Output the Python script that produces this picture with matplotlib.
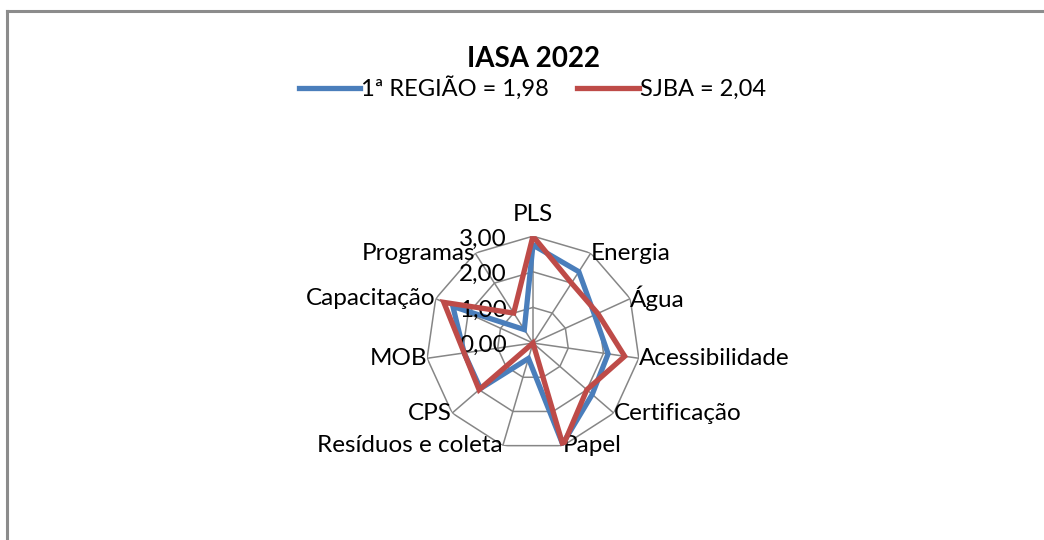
import matplotlib.pyplot as plt
import numpy as np
from matplotlib.lines import Line2D

categories = ['PLS', 'Energia', 'Água', 'Acessibilidade', 'Certificação', 'Papel',
              'Resíduos e coleta', 'CPS', 'MOB', 'Capacitação', 'Programas']
regiao = [2.75, 2.38, 1.90, 2.13, 2.20, 2.95, 0.45, 1.95, 1.95, 2.47, 0.45]
sjba = [3.00, 2.00, 2.00, 2.60, 2.00, 3.00, 0.00, 2.00, 1.95, 2.75, 1.00]
series_names = ['1ª REGIÃO = 1,98', 'SJBA = 2,04']
ring_values = [0, 1, 2, 3]

plt.rcParams['font.family'] = ['Lato', 'DejaVu Sans']
fs = 17.5

fig = plt.figure(figsize=(10.44, 5.4), dpi=100)
ax = fig.add_axes([0.408, 0.1667, 0.205, 0.396], projection='polar')
ax.set_theta_zero_location('N')
ax.set_theta_direction(-1)
ax.set_ylim(0, 3)
ax.set_xticks([])
ax.set_yticks([])
ax.grid(False)
ax.spines['polar'].set_visible(False)
ax.patch.set_visible(False)

n = len(categories)
angles = np.arange(n) * 2 * np.pi / n
closed = np.append(angles, angles[0])

# polygon grid and spokes
grid_color = '#868686'
for r in ring_values[1:]:
    ax.plot(closed, [r] * (n + 1), color=grid_color, lw=1.1, zorder=1)
for a in angles:
    ax.plot([a, a], [0, 3], color=grid_color, lw=1.1, zorder=1)

blue = '#4a7ebb'
red = '#be4b48'
ax.plot(closed, regiao + regiao[:1], color=blue, lw=3.8, zorder=3, solid_joinstyle='miter')
ax.plot(closed, sjba + sjba[:1], color=red, lw=3.8, zorder=4, solid_joinstyle='miter')

# category labels
for a, lab in zip(angles, categories):
    s = np.sin(a)
    if abs(s) < 0.05:
        ax.text(a, 3.62, lab, ha='center', va='center', fontsize=fs, clip_on=False)
    elif s > 0:
        ax.text(a, 3.0, lab, ha='left', va='center', fontsize=fs, clip_on=False)
    else:
        ax.text(a, 3.0, lab, ha='right', va='center', fontsize=fs, clip_on=False)

# radial value labels
for r in ring_values:
    ax.annotate(f'{r:.2f}'.replace('.', ','), xy=(0, r), xytext=(-19, -2),
                textcoords='offset points', ha='right', va='center', fontsize=fs,
                annotation_clip=False)

fig.text(0.511, 0.89, 'IASA 2022', ha='center', va='center', fontsize=20, fontweight='bold')

handles = [Line2D([], [], color=blue, lw=3.8), Line2D([], [], color=red, lw=3.8)]
fig.legend(handles, series_names, loc='center', bbox_to_anchor=(0.51, 0.837), ncol=2,
           frameon=False, fontsize=17, handlelength=2.6, handletextpad=0.05,
           columnspacing=1.2)

# chart area border (left and top edges visible)
fig.add_artist(Line2D([0.0067, 0.0067], [0, 0.98], color='#8c8c8c', lw=2.2, transform=fig.transFigure))
fig.add_artist(Line2D([0.0067, 1.0], [0.98, 0.98], color='#8c8c8c', lw=2.2, transform=fig.transFigure))

plt.savefig('out.png', dpi=100)
